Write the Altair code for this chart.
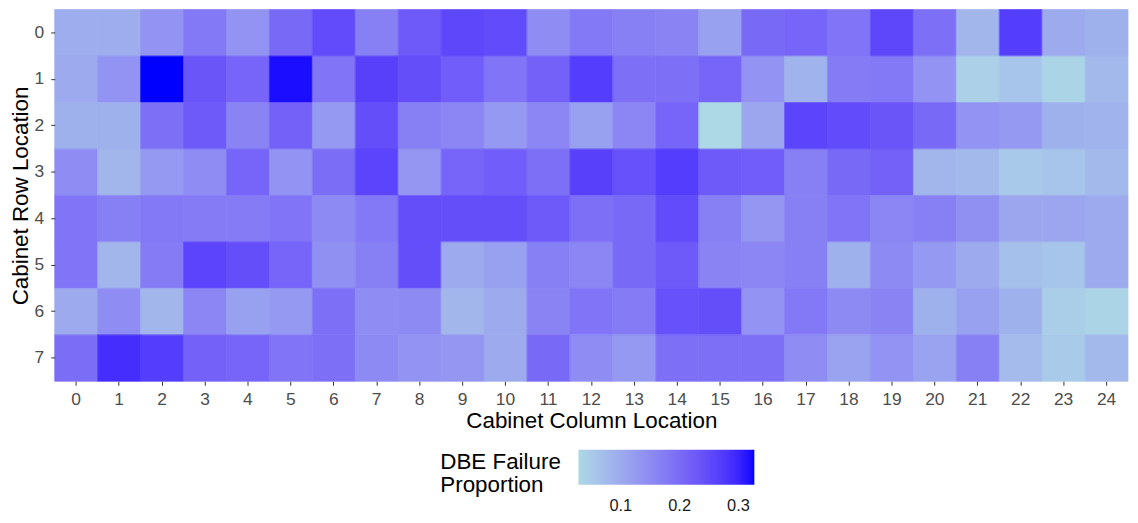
import altair as alt
import pandas as pd

# Cabinet row / column labels
rows = [0, 1, 2, 3, 4, 5, 6, 7]
cols = list(range(25))

# DBE failure proportion per cabinet row (columns 0..24)
row0 = [0.095, 0.095, 0.137, 0.18, 0.137, 0.204, 0.25, 0.168, 0.228, 0.255, 0.25, 0.147, 0.18, 0.168, 0.163, 0.116, 0.204, 0.21, 0.186, 0.255, 0.192, 0.081, 0.27, 0.10, 0.09]
row1 = [0.10, 0.137, 0.327, 0.234, 0.21, 0.32, 0.186, 0.265, 0.245, 0.222, 0.186, 0.216, 0.27, 0.192, 0.192, 0.21, 0.137, 0.086, 0.174, 0.18, 0.137, 0.04, 0.057, 0.035, 0.077]
row2 = [0.09, 0.09, 0.192, 0.228, 0.163, 0.216, 0.127, 0.245, 0.168, 0.157, 0.127, 0.157, 0.116, 0.157, 0.21, 0.028, 0.106, 0.26, 0.25, 0.234, 0.204, 0.137, 0.127, 0.09, 0.086]
row3 = [0.147, 0.081, 0.127, 0.147, 0.21, 0.137, 0.198, 0.26, 0.132, 0.21, 0.222, 0.192, 0.265, 0.24, 0.27, 0.228, 0.222, 0.168, 0.204, 0.216, 0.081, 0.077, 0.052, 0.057, 0.077]
row4 = [0.186, 0.168, 0.18, 0.174, 0.174, 0.186, 0.152, 0.18, 0.245, 0.245, 0.245, 0.228, 0.192, 0.204, 0.25, 0.168, 0.132, 0.168, 0.186, 0.157, 0.168, 0.142, 0.106, 0.106, 0.10]
row5 = [0.186, 0.081, 0.174, 0.26, 0.245, 0.21, 0.142, 0.168, 0.245, 0.10, 0.116, 0.168, 0.157, 0.204, 0.228, 0.163, 0.157, 0.168, 0.09, 0.152, 0.127, 0.10, 0.065, 0.06, 0.10]
row6 = [0.10, 0.147, 0.081, 0.157, 0.116, 0.127, 0.192, 0.147, 0.152, 0.081, 0.10, 0.163, 0.186, 0.174, 0.24, 0.245, 0.137, 0.18, 0.152, 0.163, 0.09, 0.116, 0.09, 0.045, 0.035]
row7 = [0.198, 0.29, 0.27, 0.216, 0.21, 0.186, 0.192, 0.152, 0.137, 0.132, 0.10, 0.204, 0.147, 0.127, 0.192, 0.192, 0.192, 0.147, 0.111, 0.137, 0.111, 0.168, 0.073, 0.05, 0.077]

grid = [row0, row1, row2, row3, row4, row5, row6, row7]
legend_ticks = [0.1, 0.2, 0.3]

records = []
for r, vals in zip(rows, grid):
    for c, v in zip(cols, vals):
        records.append({"row": r, "col": c, "value": v, "edge": v})
df = pd.DataFrame(records)

vmin = float(df["value"].min())
vmax = float(df["value"].max())

FONT = "Liberation Sans"

x_enc = alt.X("col:O", title="Cabinet Column Location",
              scale=alt.Scale(paddingInner=0, paddingOuter=0),
              axis=alt.Axis(labelAngle=0, domain=False, ticks=True, tickSize=4,
                            tickColor="#333333", labelColor="#4d4d4d",
                            labelFontSize=17.5, labelPadding=5,
                            titleFontSize=22.5, titleFontWeight="normal",
                            titleColor="black", titlePadding=2,
                            labelFont=FONT, titleFont=FONT))
y_enc = alt.Y("row:O", title="Cabinet Row Location",
              scale=alt.Scale(paddingInner=0, paddingOuter=0),
              axis=alt.Axis(domain=False, ticks=True, tickSize=4,
                            tickColor="#333333", labelColor="#4d4d4d",
                            labelFontSize=17.5, labelPadding=7,
                            titleFontSize=22.5, titleFontWeight="normal",
                            titleColor="black", titlePadding=1.5,
                            labelFont=FONT, titleFont=FONT))

tiles = alt.Chart(df).mark_rect().encode(
    x=x_enc, y=y_enc,
    color=alt.Color("value:Q",
                    scale=alt.Scale(domain=[vmin, vmax], range=["lightblue", "blue"],
                                    interpolate="lab"),
                    legend=alt.Legend(type="gradient",
                                      title=["DBE Failure", "Proportion"],
                                      orient="none", direction="horizontal",
                                      legendX=388, legendY=443,
                                      titleOrient="left", titleFontSize=22.5,
                                      titleFontWeight="normal", titleColor="black",
                                      titleFont=FONT, titlePadding=17,
                                      titleLineHeight=23.5, titleAnchor="end",
                                      titleBaseline="middle",
                                      values=legend_ticks, labelFontSize=16.5,
                                      labelColor="#1a1a1a", labelFont=FONT,
                                      gradientLength=177, gradientThickness=35,
                                      labelOffset=14)),
)

edges = alt.Chart(df).mark_rect(filled=False, strokeWidth=0.7).encode(
    x=x_enc, y=y_enc,
    color=alt.Color("edge:Q",
                    scale=alt.Scale(domain=[vmin, vmax], range=["lightblue", "blue"],
                                    interpolate="lab"),
                    legend=None),
)

chart = alt.layer(tiles, edges).resolve_scale(color="independent").properties(
    width=1080, height=374,
    autosize=alt.AutoSizeParams(type="none"),
    padding={"left": 47, "top": 0, "right": 2, "bottom": 140},
).configure_view(stroke=None)

chart.save("out.html", embed_options={"renderer": "svg", "actions": False})
